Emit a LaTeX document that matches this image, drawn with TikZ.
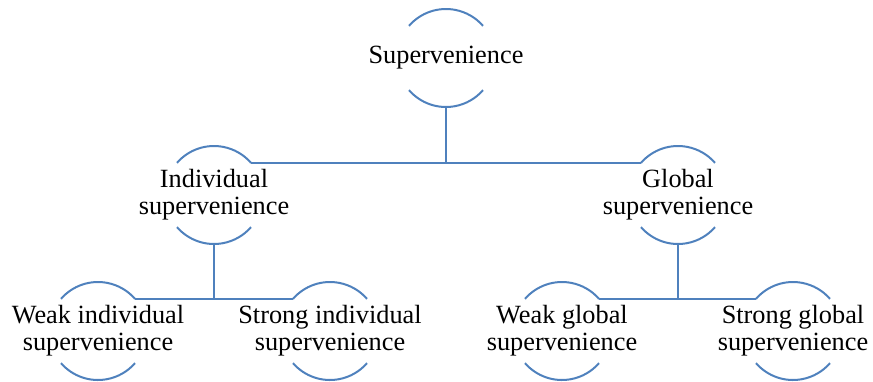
\documentclass[tikz,border=0pt]{standalone}
\usepackage{fontspec}
\setmainfont{Liberation Serif}
\definecolor{treeblue}{RGB}{79,129,189}
\newcommand{\nodearcs}[1]{%
  \draw[arcline] ([shift={(139:49pt)}]#1.center) arc[start angle=139, end angle=41, radius=49pt];
  \draw[arcline] ([shift={(221:49pt)}]#1.center) arc[start angle=221, end angle=319, radius=49pt];
  \coordinate (#1-tl) at ([shift={(139:49pt)}]#1.center);
  \coordinate (#1-tr) at ([shift={(41:49pt)}]#1.center);
  \coordinate (#1-b)  at ([shift={(270:49pt)}]#1.center);
}
\begin{document}
\begin{tikzpicture}[x=1pt, y=-1pt,
  label/.style={align=center, inner sep=0pt,
    font=\fontsize{26.3}{27}\selectfont},
  arcline/.style={draw=treeblue, line width=2pt},
  link/.style={draw=treeblue, line width=2pt}]
  \useasboundingbox (0,0) rectangle (873,381);

  % concept nodes
  \node[label] (sup)  at (446,58)  {Supervenience};
  \node[label] (ind)  at (214,195) {Individual\\supervenience};
  \node[label] (glob) at (678,195) {Global\\supervenience};
  \node[label] (wi)   at (98,331)  {Weak individual\\supervenience};
  \node[label] (si)   at (330,331) {Strong individual\\supervenience};
  \node[label] (wg)   at (562,331) {Weak global\\supervenience};
  \node[label] (sg)   at (793,331) {Strong global\\supervenience};

  % upper and lower arcs round each concept
  \nodearcs{sup}
  \nodearcs{ind}
  \nodearcs{glob}
  \nodearcs{wi}
  \nodearcs{si}
  \nodearcs{wg}
  \nodearcs{sg}

  % tree connectors
  \draw[link] (ind-tr) -- (glob-tl);
  \draw[link] (sup-b) -- (sup-b |- ind-tr);
  \draw[link] (wi-tr) -- (si-tl);
  \draw[link] (ind-b) -- (ind-b |- wi-tr);
  \draw[link] (wg-tr) -- (sg-tl);
  \draw[link] (glob-b) -- (glob-b |- wg-tr);
\end{tikzpicture}
\end{document}
